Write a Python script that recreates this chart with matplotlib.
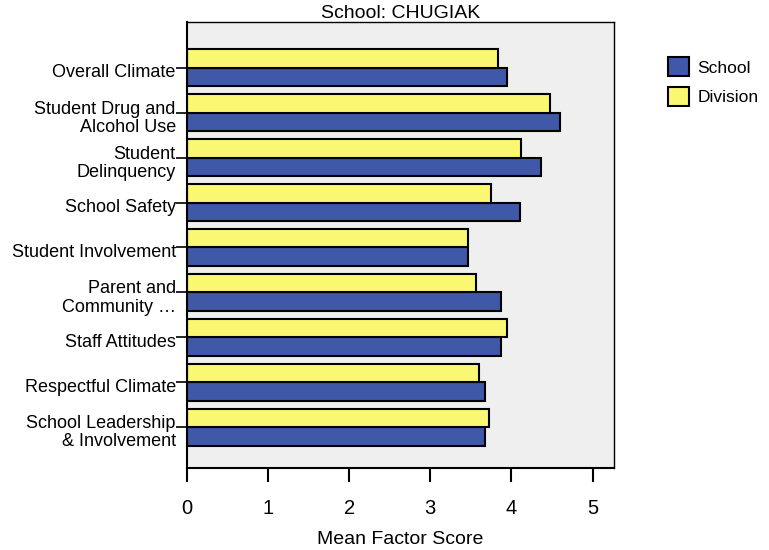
import numpy as np
import matplotlib
matplotlib.use('Agg')
import matplotlib.pyplot as plt
import matplotlib.transforms as mtransforms

plt.rcParams['font.family'] = ['Liberation Sans', 'DejaVu Sans']

categories = [
    'Overall Climate',
    'Student Drug and\nAlcohol Use',
    'Student\nDelinquency',
    'School Safety',
    'Student Involvement',
    'Parent and\nCommunity \u2026',
    'Staff Attitudes',
    'Respectful Climate',
    'School Leadership\n& Involvement',
]
school = [3.95, 4.60, 4.37, 4.10, 3.46, 3.87, 3.87, 3.67, 3.67]
division = [3.83, 4.48, 4.12, 3.75, 3.46, 3.56, 3.95, 3.60, 3.72]

blue = '#3F58A8'
yellow = '#FAF773'

fig = plt.figure(figsize=(7.69, 5.5), dpi=100)
ax = fig.add_axes([0.243, 0.149, 0.555, 0.811])
ax.set_facecolor('#EFEFEF')

y = np.arange(len(categories))
h = 0.41
ax.barh(y + h / 2, school, height=h, color=blue, edgecolor='black',
        linewidth=1.5, label='School')
ax.barh(y - h / 2, division, height=h, color=yellow, edgecolor='black',
        linewidth=1.5, label='Division')

ax.set_ylim(8.91, -1.02)
ax.set_xlim(0, 5.26)
ax.set_yticks(y)
ax.set_yticklabels(categories, fontsize=13, linespacing=1.1)
ax.set_xticks([0, 1, 2, 3, 4, 5])
ax.tick_params(axis='y', length=8, width=1.2, pad=0)
ax.tick_params(axis='x', length=10, width=1.5, pad=12, labelsize=14.5)

# labels sit a little below their tick in the original
shift = mtransforms.ScaledTranslation(0, -3 / 100, fig.dpi_scale_trans)
for lbl in ax.get_yticklabels():
    lbl.set_transform(lbl.get_transform() + shift)

for s in ax.spines.values():
    s.set_linewidth(1.0)
ax.spines['left'].set_linewidth(1.5)
ax.spines['bottom'].set_linewidth(1.5)

ax.set_title('School: CHUGIAK', fontsize=14, pad=2)
ax.set_xlabel('Mean Factor Score', fontsize=14, labelpad=10)

handles, labels = ax.get_legend_handles_labels()
fig.legend(handles, labels, loc='upper left', bbox_to_anchor=(0.848, 0.924),
           frameon=False, fontsize=12.5, handlelength=1.2, handleheight=1.3,
           handletextpad=0.5, labelspacing=0.6)

fig.savefig('out.png', dpi=100)
